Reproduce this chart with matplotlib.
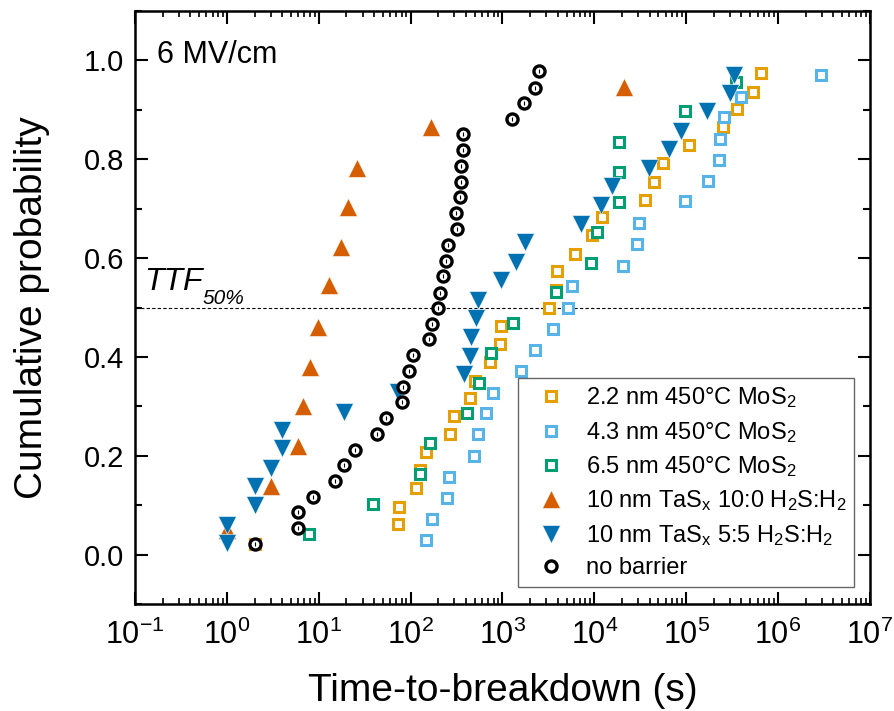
import numpy as np
import matplotlib
matplotlib.use("Agg")
import matplotlib.pyplot as plt

plt.rcParams['font.family'] = ['Liberation Sans', 'DejaVu Sans']
plt.rcParams['mathtext.fontset'] = 'custom'
plt.rcParams['mathtext.rm'] = 'Liberation Sans'
plt.rcParams['mathtext.it'] = 'Liberation Sans:italic'
plt.rcParams['axes.unicode_minus'] = False

# 2.2 nm MoS2
t_mos22 = [2, 73.3, 74.6, 116, 126, 149, 268, 298, 442, 501, 741, 937, 977, 3200, 3785, 3940,
           6240, 9550, 12200, 35500, 44700, 56100, 107600, 252000, 361000, 535000, 659000]
p_mos22 = [0.021, 0.0615, 0.097, 0.134, 0.171, 0.207, 0.244, 0.281, 0.317, 0.352, 0.389, 0.426,
           0.463, 0.499, 0.536, 0.573, 0.609, 0.647, 0.683, 0.718, 0.755, 0.792, 0.828, 0.865,
           0.902, 0.937, 0.974]
# 4.3 nm MoS2
t_mos43 = [147, 169, 252, 261, 488, 536, 655, 780, 1585, 2290, 3565, 5190, 5790, 20300, 29500,
           30500, 96600, 173000, 228000, 236000, 258000, 399000, 2.92e6]
p_mos43 = [0.030, 0.072, 0.115, 0.157, 0.20, 0.244, 0.286, 0.328, 0.372, 0.414, 0.457, 0.50,
           0.544, 0.584, 0.628, 0.671, 0.715, 0.756, 0.799, 0.842, 0.885, 0.927, 0.971]
# 6.5 nm MoS2
t_mos65 = [7.9, 39.1, 126, 162, 413, 553, 748, 1310, 3785, 9160, 10600, 18500, 18500, 18600,
           96600, 352000]
p_mos65 = [0.041, 0.103, 0.163, 0.226, 0.286, 0.347, 0.408, 0.468, 0.531, 0.591, 0.653, 0.713,
           0.774, 0.835, 0.897, 0.957]
# TaSx 10:0
t_tas100 = [1, 3, 6, 6.8, 8, 9.9, 12.9, 17.7, 20.9, 25.8, 166, 20900]
p_tas100 = [0.05, 0.138, 0.219, 0.30, 0.38, 0.46, 0.546, 0.623, 0.704, 0.782, 0.866, 0.947]
# TaSx 5:5
t_tas55 = [1, 1, 2, 2, 3, 4, 4, 18.8, 73, 380, 442, 450, 514, 544, 977, 1400, 1750, 7130,
           11800, 15600, 39200, 65100, 87300, 169000, 298000, 332000]
p_tas55 = [0.023, 0.060, 0.10, 0.138, 0.175, 0.215, 0.252, 0.289, 0.33, 0.366, 0.402, 0.44,
           0.479, 0.516, 0.556, 0.593, 0.632, 0.669, 0.708, 0.745, 0.782, 0.821, 0.858, 0.897,
           0.934, 0.971]
# no barrier
t_nob = [2, 6, 6, 8.7, 15, 18.9, 25, 42.6, 53.4, 81, 83, 96.7, 105, 159, 173, 197, 208, 227,
         242, 257, 324, 316, 344, 352, 352, 368, 373, 1276, 1722, 2253, 2512]
p_nob = [0.021, 0.053, 0.086, 0.117, 0.149, 0.182, 0.212, 0.244, 0.276, 0.308, 0.34, 0.372,
         0.404, 0.436, 0.467, 0.50, 0.530, 0.563, 0.595, 0.627, 0.659, 0.691, 0.723, 0.755,
         0.787, 0.819, 0.851, 0.882, 0.914, 0.945, 0.978]

fig = plt.figure(figsize=(8.94, 7.11), dpi=100)
ax = fig.add_axes([0.151, 0.1505, 0.822, 0.834])

ax.axhline(0.5, color="k", ls=(0, (3, 2)), lw=0.8, zorder=1)

sq = dict(ls="none", marker="s", ms=7.5, mew=2.2, mfc="white")
ax.plot(t_mos22, p_mos22, mec="#E69F00", label=r"2.2 nm 450°C MoS$_2$", **sq)
ax.plot(t_mos43, p_mos43, mec="#56B4E9", label=r"4.3 nm 450°C MoS$_2$", **sq)
ax.plot(t_mos65, p_mos65, mec="#009E73", label=r"6.5 nm 450°C MoS$_2$", **sq)
ax.plot(t_tas100, p_tas100, ls="none", marker="^", ms=13, color="#D55E00", mec="white", mew=0.4,
        label=r"10 nm TaS$_\mathrm{x}$ 10:0 H$_2$S:H$_2$")
ax.plot(t_tas55, p_tas55, ls="none", marker="v", ms=13, color="#0072B2", mec="white", mew=0.4,
        label=r"10 nm TaS$_\mathrm{x}$ 5:5 H$_2$S:H$_2$")
ax.plot(t_nob, p_nob, ls="none", marker="o", ms=8, mew=2.4, mec="black", mfc="white",
        label="no barrier")
ax.plot(t_nob, p_nob, ls="none", marker="|", ms=3, mew=0.8, color="black")

ax.set_xscale("log")
ax.set_xlim(0.1, 1e7)
ax.set_ylim(-0.1, 1.1)
ax.set_yticks(np.arange(0, 1.01, 0.2))
ax.set_yticks(np.arange(-0.1, 1.11, 0.1), minor=True)
ax.set_xticks([10.0**k for k in range(-1, 8)])

ax.tick_params(which="major", direction="in", length=9, width=1.5, top=True, right=True)
ax.tick_params(axis="x", which="major", pad=11, labelsize=22)
ax.tick_params(axis="y", which="major", pad=8, labelsize=21)
ax.tick_params(which="minor", axis="y", direction="in", length=5, width=1.5, right=True)
ax.tick_params(which="minor", axis="x", direction="in", length=4, width=1.2, top=True)
for s in ax.spines.values():
    s.set_linewidth(1.8)

ax.set_xlabel("Time-to-breakdown (s)", fontsize=28, labelpad=16)
ax.set_ylabel("Cumulative probability", fontsize=28, labelpad=24)

ax.text(0.03, (0.995 + 0.1) / 1.2, "6 MV/cm", fontsize=22, transform=ax.transAxes, va="baseline")
ttf = ax.text(0.012, (0.535 + 0.1) / 1.2, "TTF", fontsize=23, style="italic",
              transform=ax.transAxes, va="baseline")
ax.annotate("50%", xy=(1, 0), xycoords=ttf, xytext=(0.5, -5), textcoords="offset points",
            fontsize=15, style="italic", va="baseline")

leg = ax.legend(loc="lower right", bbox_to_anchor=(0.978, 0.029), fontsize=17, frameon=True,
                fancybox=False, edgecolor="#404040", handlelength=2.2, handletextpad=0.35,
                labelspacing=0.40, borderpad=0.32, borderaxespad=0)
leg.get_frame().set_linewidth(1.0)

fig.savefig("out.png", dpi=100)
